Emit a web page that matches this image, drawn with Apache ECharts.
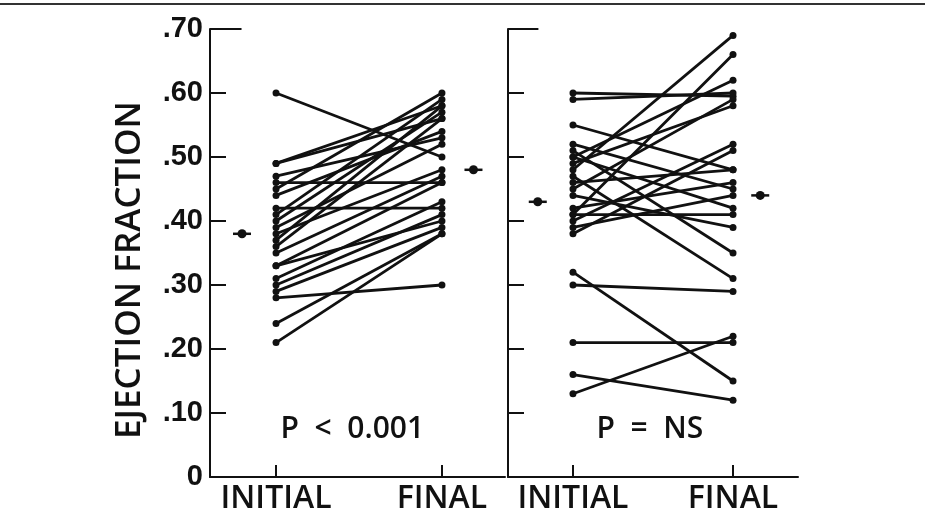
<!DOCTYPE html>
<html>
<head>
<meta charset="utf-8">
<script src="https://cdn.jsdelivr.net/npm/echarts@6/dist/echarts.min.js"></script>
<style>
  html, body { margin: 0; padding: 0; background: #fff; }
  #chart { width: 925px; height: 525px; }
</style>
</head>
<body>
<div id="chart"></div>
<script>
// categories and tick labels
const categories = ['INITIAL', 'FINAL'];
const yTickLabels = ['0', '.10', '.20', '.30', '.40', '.50', '.60', '.70'];

// left panel: paired ejection fractions (P < 0.001)
const leftInitial = [0.60, 0.49, 0.49, 0.47, 0.46, 0.45, 0.44, 0.42, 0.41, 0.40, 0.39, 0.38,
                     0.37, 0.36, 0.35, 0.33, 0.33, 0.31, 0.30, 0.29, 0.28, 0.24, 0.21];
const leftFinal   = [0.50, 0.58, 0.56, 0.53, 0.46, 0.60, 0.54, 0.42, 0.59, 0.57, 0.52, 0.48,
                     0.58, 0.56, 0.47, 0.40, 0.46, 0.43, 0.41, 0.39, 0.30, 0.38, 0.38];
const leftMeans = [0.38, 0.48];

// right panel: paired ejection fractions (P = NS)
const rightInitial = [0.60, 0.59, 0.55, 0.52, 0.51, 0.50, 0.50, 0.49, 0.48, 0.47, 0.46, 0.45,
                      0.44, 0.42, 0.41, 0.41, 0.40, 0.39, 0.38, 0.32, 0.30, 0.21, 0.16, 0.13];
const rightFinal   = [0.595, 0.60, 0.48, 0.45, 0.35, 0.62, 0.42, 0.58, 0.69, 0.31, 0.48, 0.59,
                      0.39, 0.46, 0.66, 0.41, 0.52, 0.44, 0.51, 0.15, 0.29, 0.21, 0.12, 0.22];
const rightMeans = [0.43, 0.44];

const pLabels = ['P  <  0.001', 'P  =  NS'];

const chart = echarts.init(document.getElementById('chart'));

const INK = '#111';
const labelFont = '"Open Sans", Lato, sans-serif';
const tickFont = '"Liberation Sans Narrow", "Liberation Sans", Arial, sans-serif';

// x positions: 1 = initial, 2 = final; means sit just outside
const panels = [
  { xMin: 0.602, xMax: 2.38, meanX: [0.795, 2.19], initial: leftInitial, final: leftFinal, means: leftMeans, p: pLabels[0], pX: 1.46 },
  { xMin: 0.594, xMax: 2.406, meanX: [0.78, 2.17], initial: rightInitial, final: rightFinal, means: rightMeans, p: pLabels[1], pX: 1.48 }
];

function xAxisFor(p, i) {
  return {
    type: 'value', gridIndex: i, min: p.xMin, max: p.xMax,
    axisLine: { show: true, onZero: false, lineStyle: { color: INK, width: 2 } },
    axisTick: { show: true, inside: true, length: 12, customValues: [1, 2], lineStyle: { color: INK, width: 2 } },
    axisLabel: {
      show: true, customValues: [1, 2], margin: 6,
      formatter: v => categories[Math.round(v) - 1],
      color: INK, fontFamily: labelFont, fontSize: 32, fontWeight: 600
    },
    splitLine: { show: false }
  };
}

function yAxisFor(i) {
  const y = {
    type: 'value', gridIndex: i, min: 0, max: 0.7, interval: 0.1,
    axisLine: { show: true, lineStyle: { color: INK, width: 2 } },
    axisTick: { show: true, inside: true, length: 16, lineStyle: { color: INK, width: 2 } },
    axisLabel: { show: false },
    splitLine: { show: false }
  };
  if (i === 0) {
    y.axisLabel = {
      show: true, margin: 7,
      formatter: v => yTickLabels[Math.round(v * 10)],
      color: INK, fontFamily: tickFont, fontSize: 29, fontWeight: 'bold'
    };
    y.name = 'EJECTION FRACTION';
    y.nameLocation = 'middle';
    y.nameRotate = 90;
    y.nameGap = 62;
    y.nameTextStyle = { color: INK, fontFamily: labelFont, fontSize: 35, fontWeight: 600, padding: [0, 0, 0, -34] };
  }
  return y;
}

const series = [];
panels.forEach((p, i) => {
  p.initial.forEach((v, k) => {
    series.push({
      type: 'line', xAxisIndex: i, yAxisIndex: i,
      data: [[1, v], [2, p.final[k]]],
      symbol: 'circle', symbolSize: 7, showSymbol: true,
      lineStyle: { color: INK, width: 2.8 },
      itemStyle: { color: INK },
      silent: true, animation: false
    });
  });
  // group means: dot + short horizontal bar
  const meanData = p.means.map((m, k) => [p.meanX[k], m]);
  series.push({
    type: 'scatter', xAxisIndex: i, yAxisIndex: i, data: meanData,
    symbol: 'rect', symbolSize: [18, 2.5], itemStyle: { color: INK, opacity: 1 }, animation: false, z: 3
  });
  series.push({
    type: 'scatter', xAxisIndex: i, yAxisIndex: i, data: meanData,
    symbol: 'circle', symbolSize: 9, itemStyle: { color: INK, opacity: 1 }, animation: false, z: 3,
    // longer tick at the top of each y axis, plus the P label
    markLine: {
      silent: true, symbol: 'none', animation: false,
      lineStyle: { color: INK, width: 2, type: 'solid' },
      label: { show: false },
      data: [[{ coord: [p.xMin, 0.7] }, { coord: [p.xMin + 0.19, 0.7] }]]
    },
    markPoint: {
      silent: true, symbol: 'circle', symbolSize: 0, animation: false,
      label: { show: true, color: INK, fontFamily: labelFont, fontSize: 30, fontWeight: 600, formatter: p.p },
      data: [{ coord: [p.pX, 0.075] }]
    }
  });
});

chart.setOption({
  backgroundColor: '#fff',
  animation: false,
  grid: [
    { left: 210, right: 420, top: 29, bottom: 48 },
    { left: 508, right: 127, top: 29, bottom: 48 }
  ],
  xAxis: panels.map(xAxisFor),
  yAxis: [yAxisFor(0), yAxisFor(1)],
  graphic: [
    { type: 'line', shape: { x1: 0, y1: 4, x2: 925, y2: 4 }, style: { stroke: '#333', lineWidth: 2 } }
  ],
  series: series
});
</script>
</body>
</html>
